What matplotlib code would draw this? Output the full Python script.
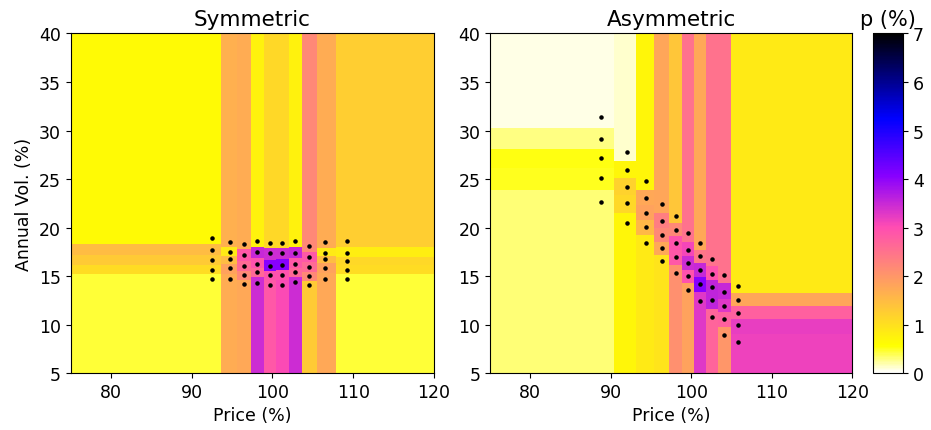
import numpy as np
import matplotlib.pyplot as plt

plt.rcParams['font.size'] = 12.5

# Symmetric case: price columns, vol nodes in each column (low -> high), p (%) at each node
sym_price = [92.5, 94.7, 96.5, 98.1, 99.7, 101.2, 102.8, 104.5, 106.5, 109.2]
sym_vol = [
    [14.72, 15.65, 16.62, 17.71, 18.95],
    [14.66, 15.82, 16.75, 17.47, 18.47],
    [14.14, 15.07, 16.00, 17.16, 18.33],
    [14.31, 15.44, 16.27, 17.44, 18.64],
    [14.07, 15.07, 16.06, 17.34, 18.37],
    [14.10, 15.10, 16.09, 17.34, 18.37],
    [14.34, 15.44, 16.27, 17.40, 18.57],
    [14.04, 14.97, 15.89, 16.92, 18.12],
    [14.69, 15.85, 16.75, 17.40, 18.47],
    [14.69, 15.65, 16.58, 17.40, 18.57],
]
sym_p = [
    [0.45, 1.05, 1.30, 1.50, 0.65],
    [1.70, 1.85, 1.50, 0.85, 1.65],
    [1.75, 2.20, 2.60, 2.85, 1.70],
    [3.45, 2.65, 2.95, 3.50, 0.75],
    [2.85, 2.95, 4.05, 3.45, 1.10],
    [3.05, 2.95, 4.05, 3.45, 1.10],
    [3.45, 2.65, 2.85, 3.50, 0.75],
    [1.30, 2.20, 2.60, 2.85, 2.20],
    [1.75, 1.85, 1.50, 0.85, 1.70],
    [0.45, 1.05, 1.10, 0.80, 1.25],
]

# Asymmetric case
asym_price = [88.83, 91.98, 94.34, 96.33, 98.07, 99.64, 101.09, 102.58, 104.07, 105.77]
asym_vol = [
    [22.63, 25.10, 27.13, 29.12, 31.39],
    [20.46, 22.49, 24.21, 25.93, 27.78],
    [18.40, 20.02, 21.53, 23.04, 24.79],
    [16.55, 17.86, 19.20, 20.64, 22.42],
    [15.31, 16.99, 18.40, 19.78, 21.19],
    [13.56, 15.00, 16.34, 17.71, 19.40],
    [12.42, 14.21, 15.65, 17.03, 18.37],
    [10.74, 12.49, 13.87, 15.24, 16.75],
    [8.92, 10.57, 11.94, 13.38, 15.13],
    [8.20, 9.95, 11.22, 12.53, 13.97],
]
asym_p = [
    [0.32, 0.50, 0.52, 0.30, 0.08],
    [0.70, 1.10, 1.20, 0.70, 0.12],
    [0.85, 1.55, 1.85, 1.75, 0.70],
    [0.95, 1.75, 2.20, 2.35, 1.80],
    [2.10, 2.85, 2.95, 2.20, 1.35],
    [1.85, 2.95, 3.45, 3.10, 2.50],
    [3.30, 4.05, 3.50, 2.45, 1.75],
    [2.70, 3.57, 3.57, 2.95, 2.50],
    [2.00, 2.75, 3.30, 3.50, 2.50],
    [3.15, 3.20, 2.75, 1.80, 0.87],
]

xlim = (75, 120)
ylim = (5, 40)


def draw_surface(ax, prices, vols, probs):
    # piecewise-constant map: each price column split at vol midpoints
    prices = np.asarray(prices)
    x_edges = np.concatenate([[xlim[0]], (prices[1:] + prices[:-1]) / 2, [xlim[1]]])
    mesh = None
    for i, px in enumerate(prices):
        v = np.asarray(vols[i])
        y_edges = np.concatenate([[ylim[0]], (v[1:] + v[:-1]) / 2, [ylim[1]]])
        mesh = ax.pcolormesh(x_edges[i:i + 2], y_edges, np.asarray(probs[i])[:, None],
                             cmap='gnuplot2_r', vmin=0, vmax=7)
        ax.scatter(np.full(len(v), px), v, s=5, c='k', zorder=3)
    ax.set_xlim(*xlim)
    ax.set_ylim(*ylim)
    ax.set_xticks([80, 90, 100, 110, 120])
    ax.set_yticks(range(5, 41, 5))
    ax.set_xlabel('Price (%)')
    return mesh


fig = plt.figure(figsize=(9.31, 4.31), dpi=100)
ax1 = fig.add_axes([0.076, 0.132, 0.390, 0.788])
ax2 = fig.add_axes([0.5263, 0.132, 0.389, 0.788])
cax = fig.add_axes([0.938, 0.132, 0.032, 0.788])

draw_surface(ax1, sym_price, sym_vol, sym_p)
ax1.set_title('Symmetric', fontsize=15.5)
ax1.set_ylabel('Annual Vol. (%)')

m = draw_surface(ax2, asym_price, asym_vol, asym_p)
ax2.set_title('Asymmetric', fontsize=15.5)

cb = fig.colorbar(m, cax=cax, ticks=range(0, 8))
cax.set_title('p (%)', fontsize=15)

fig.savefig('out.png', dpi=100)
